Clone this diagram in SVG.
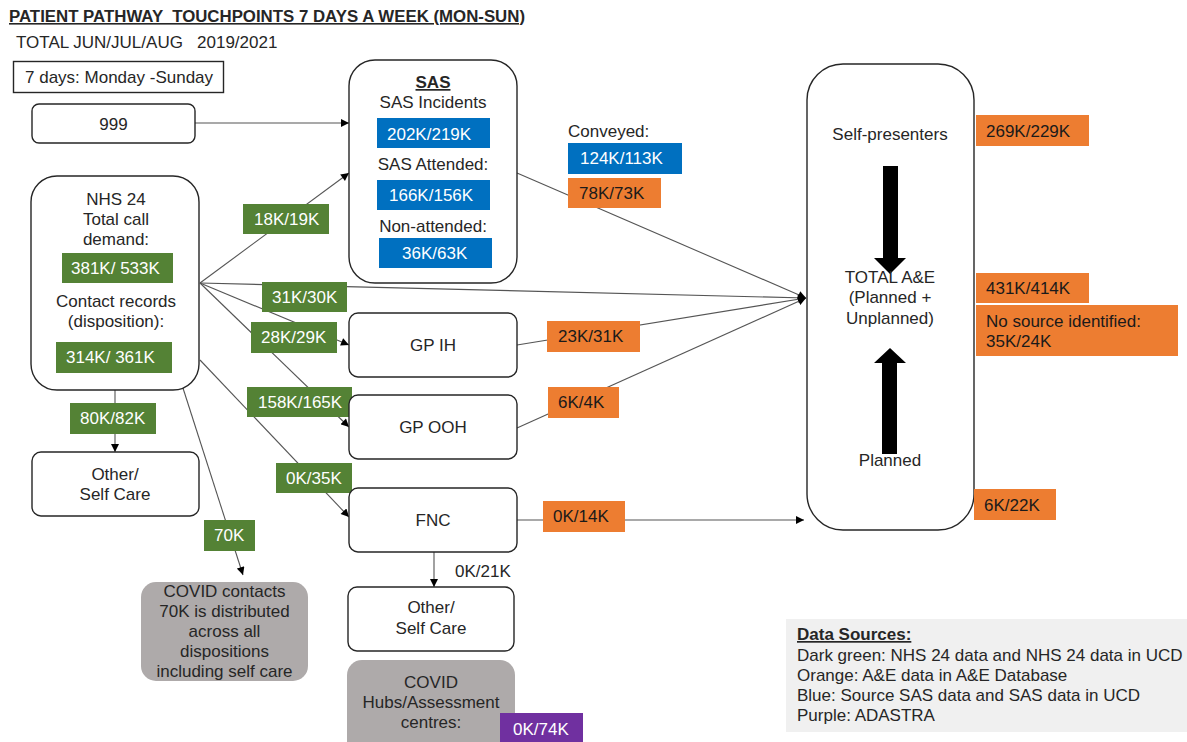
<svg xmlns="http://www.w3.org/2000/svg" width="1187" height="742" viewBox="0 0 1187 742">
<style>
text{font-family:"Liberation Sans",Arial,sans-serif;font-size:17px;fill:#262626}
.c{text-anchor:middle}
.w{fill:#ffffff}
.k{fill:#1a1a1a}
.box{fill:#ffffff;stroke:#262626;stroke-width:1.4}
.gbox{fill:#aeaaaa;stroke:none}
.g{fill:#548235}
.b{fill:#0070c0}
.o{fill:#ed7d31}
.p{fill:#7030a0}
.ln{stroke:#555555;stroke-width:1.1;fill:none}
.ar{marker-end:url(#ah)}
.big{fill:#000000}
</style>
<defs>
<marker id="ah" viewBox="0 0 10 10" refX="10" refY="5" markerWidth="9" markerHeight="8" markerUnits="userSpaceOnUse" orient="auto">
<path d="M0,0 L10,5 L0,10 z" fill="#000000"/>
</marker>
</defs>
<rect width="1187" height="742" fill="#ffffff"/>

<g id="header">
<text x="9" y="22" style="font-weight:bold;font-size:16px;text-decoration:underline" textLength="516" lengthAdjust="spacingAndGlyphs" xml:space="preserve">PATIENT PATHWAY  TOUCHPOINTS 7 DAYS A WEEK (MON-SUN)</text>
<text x="16" y="48" xml:space="preserve">TOTAL JUN/JUL/AUG   2019/2021</text>
</g>

<g id="connectors">
<path class="ln ar" d="M195,123 L349,123"/>
<path class="ln ar" d="M200,283 L349,173"/>
<path class="ln ar" d="M200,283 L806,298"/>
<path class="ln ar" d="M200,283 L349,345"/>
<path class="ln ar" d="M200,283 L349,427"/>
<path class="ln ar" d="M200,360 L349,517"/>
<path class="ln ar" d="M115,390 L115,452"/>
<path class="ln ar" d="M182,385 L243,575"/>
<path class="ln ar" d="M517,173 L806,298"/>
<path class="ln ar" d="M517,345 L806,298"/>
<path class="ln ar" d="M517,428 L806,298"/>
<path class="ln ar" d="M517,520 L804,520"/>
<path class="ln ar" d="M434,552 L434,587"/>
<g id="connector-labels">
<rect class="g" x="243" y="204" width="86" height="30"/><text class="w" x="254" y="225">18K/19K</text>
<rect class="g" x="262" y="282" width="85" height="30"/><text class="w" x="272" y="303">31K/30K</text>
<rect class="g" x="251" y="322" width="86" height="31"/><text class="w" x="261" y="343">28K/29K</text>
<rect class="g" x="247" y="387" width="105" height="30"/><text class="w" x="258" y="408">158K/165K</text>
<rect class="g" x="276" y="463" width="76" height="30"/><text class="w" x="286" y="484">0K/35K</text>
<rect class="g" x="70" y="403" width="86" height="31"/><text class="w" x="80" y="424">80K/82K</text>
<rect class="g" x="204" y="520" width="51" height="31"/><text class="w" x="214" y="541">70K</text>
<text x="568" y="137">Conveyed:</text>
<rect class="b" x="568" y="143" width="114" height="31"/><text class="w" x="580" y="164">124K/113K</text>
<rect class="o" x="568" y="178" width="93" height="30"/><text class="k" x="579" y="199">78K/73K</text>
<rect class="o" x="547" y="321" width="93" height="31"/><text class="k" x="558" y="342">23K/31K</text>
<rect class="o" x="548" y="387" width="71" height="31"/><text class="k" x="558" y="408">6K/4K</text>
<rect class="o" x="543" y="501" width="82" height="31"/><text class="k" x="553" y="522">0K/14K</text>
<text x="455" y="577">0K/21K</text>
</g>
</g>

<g id="days-legend">
<rect x="13.5" y="61.5" width="210" height="31" fill="#ffffff" stroke="#262626" stroke-width="1.4"/>
<text x="25" y="83">7 days: Monday -Sunday</text>
</g>

<g id="node-999">
<rect class="box" x="32" y="104" width="163" height="39" rx="7"/>
<text class="c" x="113.5" y="130">999</text>
</g>

<g id="node-nhs24">
<rect class="box" x="31" y="176" width="168" height="214" rx="26"/>
<text class="c" x="116" y="205">NHS 24</text>
<text class="c" x="116" y="225">Total call</text>
<text class="c" x="116" y="245">demand:</text>
<rect class="g" x="62" y="253" width="111" height="30"/><text class="w" x="71" y="274">381K/ 533K</text>
<text class="c" x="116" y="307">Contact records</text>
<text class="c" x="116" y="327">(disposition):</text>
<rect class="g" x="56" y="342" width="116" height="31"/><text class="w" x="66" y="363">314K/ 361K</text>
</g>

<g id="node-other-left">
<rect class="box" x="32" y="452" width="167" height="64" rx="9"/>
<text class="c" x="115" y="480">Other/</text>
<text class="c" x="115" y="500">Self Care</text>
</g>

<g id="node-covid-contacts">
<rect class="gbox" x="141" y="582" width="167" height="99" rx="15"/>
<text class="c" x="224.5" y="597">COVID contacts</text>
<text class="c" x="224.5" y="617">70K is distributed</text>
<text class="c" x="224.5" y="637">across all</text>
<text class="c" x="224.5" y="657">dispositions</text>
<text class="c" x="224.5" y="677">including self care</text>
</g>

<g id="node-sas">
<rect class="box" x="349" y="60" width="168" height="223" rx="26"/>
<text class="c" x="433" y="88" style="font-weight:bold;text-decoration:underline">SAS</text>
<text class="c" x="433" y="108">SAS Incidents</text>
<rect class="b" x="377" y="118" width="113" height="30"/><text class="w" x="387" y="140">202K/219K</text>
<text class="c" x="433" y="170">SAS Attended:</text>
<rect class="b" x="377" y="180" width="113" height="30"/><text class="w" x="389" y="201">166K/156K</text>
<text class="c" x="433" y="232">Non-attended:</text>
<rect class="b" x="379" y="238" width="113" height="30"/><text class="w" x="402" y="259">36K/63K</text>
</g>

<g id="node-gpih">
<rect class="box" x="349" y="313" width="168" height="64" rx="9"/>
<text class="c" x="433" y="351">GP IH</text>
</g>

<g id="node-gpooh">
<rect class="box" x="349" y="395" width="168" height="64" rx="9"/>
<text class="c" x="433" y="433">GP OOH</text>
</g>

<g id="node-fnc">
<rect class="box" x="349" y="488" width="168" height="64" rx="9"/>
<text class="c" x="433" y="526">FNC</text>
</g>

<g id="node-other-right">
<rect class="box" x="348" y="587" width="166" height="64" rx="9"/>
<text class="c" x="431" y="613">Other/</text>
<text class="c" x="431" y="634">Self Care</text>
</g>

<g id="node-covid-hubs">
<rect class="gbox" x="347" y="660" width="168" height="100" rx="15"/>
<text class="c" x="431" y="688">COVID</text>
<text class="c" x="431" y="708">Hubs/Assessment</text>
<text class="c" x="431" y="728">centres:</text>
<rect class="p" x="500" y="713" width="83" height="32"/><text class="w" x="513" y="735">0K/74K</text>
</g>

<g id="node-ae">
<rect class="box" x="807" y="64" width="167" height="466" rx="36"/>
<text class="c" x="890" y="140">Self-presenters</text>
<path class="big" d="M883,166 L898,166 L898,258 L906,258 L890,274 L874,258 L883,258 z"/>
<text class="c" x="890" y="283">TOTAL A&amp;E</text>
<text class="c" x="890" y="303">(Planned +</text>
<text class="c" x="890" y="324">Unplanned)</text>
<path class="big" d="M890,348 L906,363 L897,363 L897,454 L882,454 L882,363 L874,363 z"/>
<text class="c" x="890" y="466">Planned</text>
</g>

<g id="ae-figures">
<rect class="o" x="976" y="115" width="113" height="31"/><text class="k" x="986" y="137">269K/229K</text>
<rect class="o" x="976" y="273" width="113" height="30"/><text class="k" x="986" y="294">431K/414K</text>
<rect class="o" x="976" y="305" width="202" height="51"/>
<text class="k" x="986" y="327">No source identified:</text>
<text class="k" x="986" y="347">35K/24K</text>
<rect class="o" x="974" y="489" width="82" height="31"/><text class="k" x="984" y="511">6K/22K</text>
</g>

<g id="data-sources">
<rect x="786" y="619" width="401" height="113" fill="#f0f0f0"/>
<text x="797" y="640" style="font-weight:bold;text-decoration:underline">Data Sources:</text>
<text x="797" y="661">Dark green: NHS 24 data and NHS 24 data in UCD</text>
<text x="797" y="681">Orange: A&amp;E data in A&amp;E Database</text>
<text x="797" y="701">Blue: Source SAS data and SAS data in UCD</text>
<text x="797" y="721">Purple: ADASTRA</text>
</g>
</svg>
